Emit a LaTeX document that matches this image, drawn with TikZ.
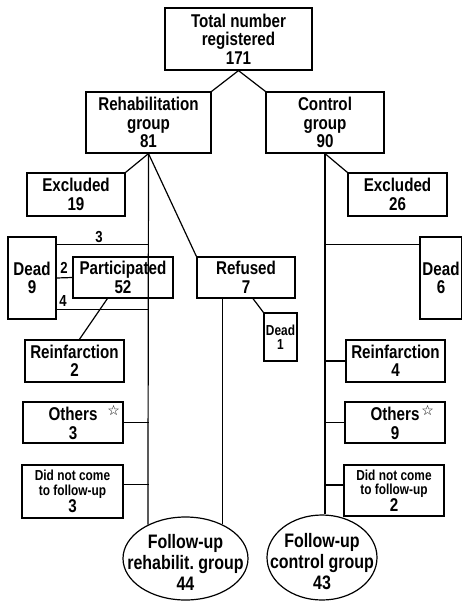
\documentclass[tikz,border=0pt]{standalone}
\usepackage{fontspec}
\setmainfont{Liberation Sans}[FakeStretch=0.82]
\newfontfamily\starfont{DejaVu Sans}
\usetikzlibrary{shapes.geometric,calc}

\newcommand{\starmark}[1]{\rlap{\kern#1\raisebox{5pt}{\starfont\mdseries\fontsize{14}{14}\selectfont ☆}}}

\tikzset{
  box/.style={draw, line width=1.2pt, align=center, inner sep=0pt, font=\bfseries\fontsize{18.5}{18.5}\selectfont},
  smallbox/.style={box, font=\bfseries\fontsize{14.5}{14.5}\selectfont},
  oval/.style={draw, ellipse, line width=1.2pt, inner sep=0pt},
  ovaltext/.style={align=center, inner sep=0pt, font=\bfseries\fontsize{19.5}{21}\selectfont},
  count/.style={inner sep=0pt, font=\bfseries\fontsize{16}{16}\selectfont},
  link/.style={line width=1.2pt},
}

\begin{document}
\begin{tikzpicture}[x=1pt,y=1pt,yscale=-1]
\useasboundingbox (0,0) rectangle (461,602);

% Text Node
\node [box, minimum width=147, minimum height=62] (total) at (238.5,39) {Total number\\registered\\171};
\node [box, minimum width=125, minimum height=61] (rehab) at (148.5,122.5) {Rehabilitation\\group\\81};
\node [box, minimum width=118, minimum height=61] (control) at (325,122.5) {Control\\group\\90};

% rehabilitation side
\node [box, minimum width=98, minimum height=43] (excl19) at (76,194.5) {Excluded\\19};
\node [box, minimum width=48, minimum height=82] (dead9) at (32,278) {Dead\\9};
\node [box, minimum width=100, minimum height=41] (part) at (123,277.5) {Participated\\52};
\node [box, minimum width=98, minimum height=41] (refused) at (246,277.5) {Refused\\7};
\node [smallbox, minimum width=33, minimum height=48] (dead1) at (280.5,337) {Dead\\1};
\node [box, minimum width=99, minimum height=42] (reinf2) at (74.5,361) {Reinfarction\\2};
\node [box, minimum width=100, minimum height=41] (others3) at (73,422.5) {Others\starmark{10pt}\\3};
\node [smallbox, minimum width=101, minimum height=53] (dnc3) at (72.5,491.5) {Did not come\\to follow-up\\{\fontsize{18.5}{18}\selectfont 3}};

% control side
\node [box, minimum width=99, minimum height=43] (excl26) at (397.5,194.5) {Excluded\\26};
\node [box, minimum width=42, minimum height=82] (dead6) at (441,278) {Dead\\6};
\node [box, minimum width=99, minimum height=42] (reinf4) at (395.5,361) {Reinfarction\\4};
\node [box, minimum width=100, minimum height=41] (others9) at (395,422.5) {Others\starmark{2pt}\\9};
\node [smallbox, minimum width=100, minimum height=51] (dnc2) at (394,490.5) {Did not come\\to follow-up\\{\fontsize{18.5}{18}\selectfont 2}};

% follow-up groups
\node [oval, minimum width=125, minimum height=83] (furehab) at (185.5,558.5) {};
\node [ovaltext] (furehabtxt) at ($(furehab)+(0,4)$) {Follow-up\\rehabilit.\ group\\44};
\node [oval, minimum width=110, minimum height=85] (fucontrol) at (322,557.5) {};
\node [ovaltext] (fucontroltxt) at ($(fucontrol)+(0,4)$) {Follow-up\\control group\\43};

% small counts on the dead links
\node [count] (lbl3) at (99,237) {3};
\node [count] (lbl2) at (64,268) {2};
\node [count] (lbl4) at (63,301) {4};

%Straight Lines
\draw [link] (total.south) -- (rehab.north east);
\draw [link] (total.south) -- (control.north west);
\draw [link] (rehab.south) -- (excl19.north east);
\draw [link] (rehab.south) -- (furehab.138);
\draw [link] (rehab.south) -- (refused.north west);
\draw [link] (control.south) -- (excl26.north west);
\draw [link] (control.south) -- (control.south |- fucontrol.north);

\coordinate (d9top) at ($(dead9.north east)+(0,8)$);
\coordinate (d9bot) at ($(dead9.south east)+(0,-10)$);
\draw [link] (d9top) -- (d9top -| rehab.south);
\draw [link] (dead9.east) -- (part.west);
\draw [link] (d9bot) -- (d9bot -| rehab.south);

\draw [link] ($(part.south west)+(35,0)$) -- ($(reinf2.north west)+(55,0)$);
\draw [link] ($(refused.south)+(7,0)$) -- (dead1.north west);
\draw [link] (furehab.43 |- refused.south) -- (furehab.43);

\draw [link] (others3.east) -- (others3.east -| rehab.south);
\coordinate (dnc3link) at ($(dnc3.east)+(0,-7)$);
\draw [link] (dnc3link) -- (dnc3link -| rehab.south);

\coordinate (d6link) at ($(dead6.north west)+(0,8)$);
\draw [link] (d6link) -- (d6link -| control.south);
\draw [link] (reinf4.west) -- (reinf4.west -| control.south);
\draw [link] (others9.west) -- (others9.west -| control.south);
\coordinate (dnc2link) at ($(dnc2.west)+(0,-5.5)$);
\draw [link] (dnc2link) -- (dnc2link -| control.south);

\end{tikzpicture}
\end{document}
